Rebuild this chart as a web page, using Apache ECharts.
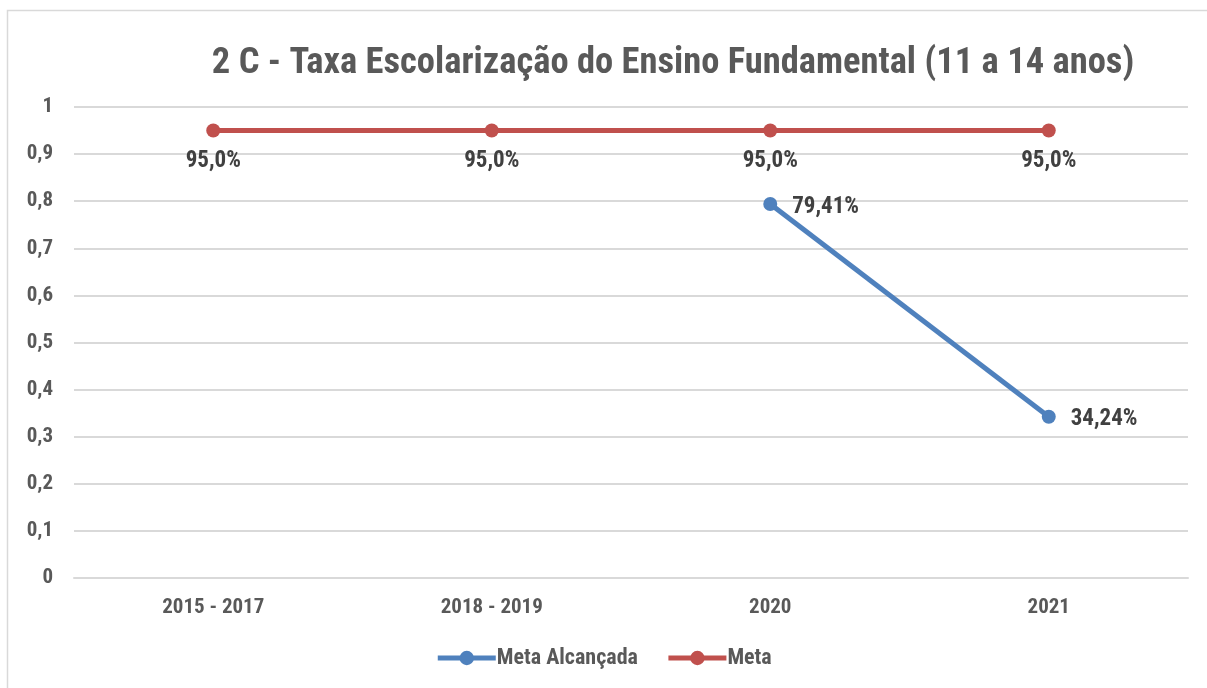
<!DOCTYPE html>
<html>
<head>
<meta charset="utf-8">
<script src="https://cdn.jsdelivr.net/npm/echarts@6/dist/echarts.min.js"></script>
<style>
html,body{margin:0;padding:0;background:#fff;}
#c{width:1207px;height:688px;}
</style>
</head>
<body>
<div id="c"></div>
<script>
var categories = ['2015 - 2017', '2018 - 2019', '2020', '2021'];
var metaAlcancada = [null, null, 0.7941, 0.3424];
var meta = [0.95, 0.95, 0.95, 0.95];
var yTicks = [0, 0.1, 0.2, 0.3, 0.4, 0.5, 0.6, 0.7, 0.8, 0.9, 1];

var FONT = "'Liberation Sans Narrow','Arial Narrow','Roboto Condensed',sans-serif";
function fmtPct(v, d) { return (v * 100).toFixed(d).replace('.', ',') + '%'; }

var chart = echarts.init(document.getElementById('c'));
chart.setOption({
  backgroundColor: '#fff',
  animation: false,
  graphic: [{
    type: 'rect',
    shape: { x: 7.5, y: 10.5, width: 1220, height: 700 },
    style: { fill: 'none', stroke: '#d9d9d9', lineWidth: 1.5 },
    silent: true
  }],
  title: {
    text: '2 C - Taxa Escolarização do Ensino Fundamental (11 a 14 anos)',
    left: 668, top: 40, textAlign: 'center',
    textStyle: { fontFamily: FONT, fontWeight: 'bold', fontSize: 36.5, color: '#595959' }
  },
  legend: {
    bottom: 14, left: 'center',
    itemWidth: 58, itemHeight: 18, itemGap: 28,
    lineStyle: { width: 5 },
    textStyle: { fontFamily: FONT, fontWeight: 'bold', fontSize: 22, color: '#595959', padding: [0, 0, 0, -4] },
    data: ['Meta Alcançada', 'Meta']
  },
  grid: { left: 74, right: 19, top: 107, bottom: 110, containLabel: false },
  xAxis: {
    type: 'category', data: categories, boundaryGap: true,
    axisLine: { show: true, lineStyle: { color: '#d9d9d9', width: 2 } },
    axisTick: { show: false },
    axisLabel: { fontFamily: FONT, fontWeight: 'bold', fontSize: 21, color: '#595959', margin: 19 }
  },
  yAxis: {
    type: 'value', min: 0, max: 1, interval: 0.1,
    axisLine: { show: false }, axisTick: { show: false },
    splitLine: { lineStyle: { color: '#d9d9d9', width: 2 } },
    axisLabel: {
      fontFamily: FONT, fontWeight: 'bold', fontSize: 21, color: '#595959', margin: 21,
      formatter: function (v) {
        var t = yTicks.find(function (x) { return Math.abs(x - v) < 1e-9; });
        return String(Math.round(t * 10) / 10).replace('.', ',');
      }
    }
  },
  series: [{
    name: 'Meta Alcançada', type: 'line', data: metaAlcancada,
    connectNulls: false, symbol: 'circle', symbolSize: 14,
    lineStyle: { color: '#4f81bd', width: 5 },
    itemStyle: { color: '#4f81bd' },
    label: {
      show: true, position: 'right', distance: 15, offset: [0, 3],
      fontFamily: FONT, fontWeight: 'bold', fontSize: 23, color: '#404040',
      formatter: function (p) { return fmtPct(p.value, 2); }
    }
  }, {
    name: 'Meta', type: 'line', data: meta,
    symbol: 'circle', symbolSize: 14,
    lineStyle: { color: '#c0504d', width: 5 },
    itemStyle: { color: '#c0504d' },
    label: {
      show: true, position: 'bottom', distance: 12,
      fontFamily: FONT, fontWeight: 'bold', fontSize: 23, color: '#404040',
      formatter: function (p) { return fmtPct(p.value, 1); }
    }
  }]
});
</script>
</body>
</html>
